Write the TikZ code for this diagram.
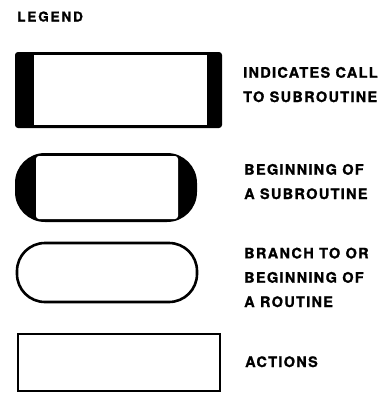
\documentclass[tikz,border=0pt]{standalone}
\usepackage{fontspec}
\setmainfont{TeX Gyre Heros}[LetterSpace=9, BoldFeatures={FakeBold=1.2}]
\newfontfamily\titlefont{TeX Gyre Heros}[LetterSpace=14, BoldFeatures={FakeBold=1.2}]
\begin{document}
\begin{tikzpicture}[x=1pt, y=-1pt,
  legendtext/.style={anchor=base west, align=left, inner sep=0pt, font=\fontsize{14.5}{24.3}\selectfont\bfseries},
  outline/.style={draw=black, line width=2.6pt}]
\useasboundingbox (0,0) rectangle (387,394);
% Title
\node[anchor=base west, inner sep=0pt, font=\titlefont\fontsize{13.5}{15}\selectfont\bfseries] (title) at (17,21.5) {LEGEND};
% --- Call to subroutine: box with black side bars ---
\fill[black, rounded corners=3pt] (15,52) rectangle (222,128);
\fill[white] (34,55) rectangle (207,125);
\node[legendtext] (calltext) at (243,102) {INDICATES CALL\\TO SUBROUTINE};
% --- Beginning of a subroutine: stadium with black caps ---
\fill[black, rounded corners=30pt] (15,153) rectangle (197,222);
\fill[white, rounded corners=3pt] (36,156) rectangle (178,219);
\node[legendtext] (subtext) at (244,199) {BEGINNING OF\\A SUBROUTINE};
% --- Branch to or beginning of a routine: open stadium ---
\draw[outline, rounded corners=28pt] (17,243) rectangle (197,302);
\node[legendtext] (routinetext) at (244,307) {BRANCH TO OR\\BEGINNING OF\\A ROUTINE};
% --- Actions: plain box ---
\draw[outline, line width=2.2pt] (18,334) rectangle (220,391);
\node[legendtext] (actiontext) at (245,367) {ACTIONS};
\end{tikzpicture}
\end{document}
